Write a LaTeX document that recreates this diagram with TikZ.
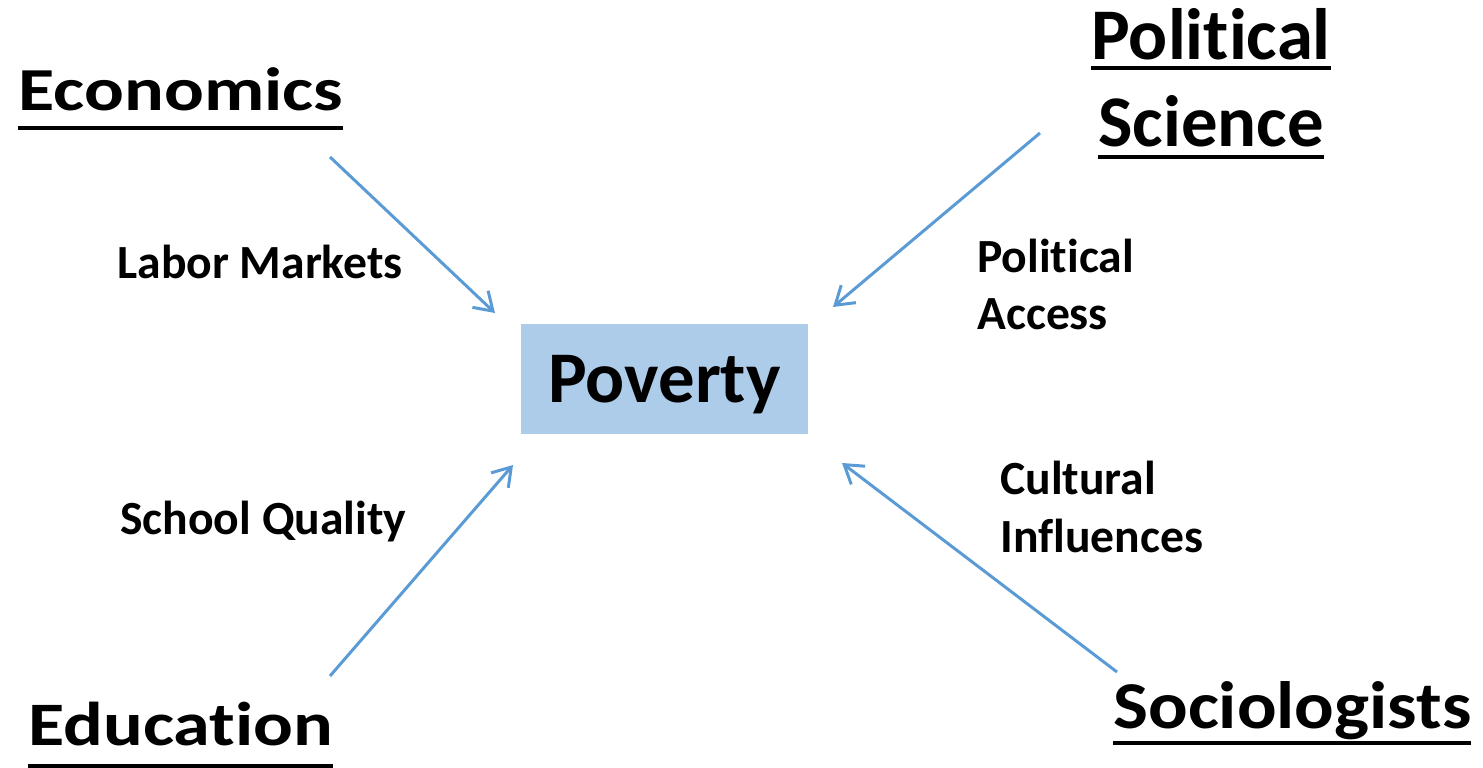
\documentclass[tikz,border=0pt]{standalone}
\usepackage{fontspec}
\setmainfont{Carlito}[Ligatures=NoCommon]
\usetikzlibrary{arrows.meta}
\definecolor{boxblue}{RGB}{173,204,234}
\definecolor{linkblue}{RGB}{91,155,213}
\tikzstyle{field} = [font=\fontsize{41.4}{49.9}\selectfont\bfseries, inner sep=0pt, align=center]
\tikzstyle{cause} = [font=\fontsize{27.1}{32.9}\selectfont\bfseries, inner sep=0pt, align=left]
\tikzstyle{pov} = [font=\fontsize{41.4}{49.9}\selectfont\bfseries, fill=boxblue, minimum width=57.4mm, minimum height=22mm, text height=26.6pt, text depth=0pt]
\tikzstyle{link} = [draw=linkblue, line width=1.7pt, -{Straight Barb[length=10pt,width=13pt]}]
\newsavebox{\fieldbox}
\newcommand{\fieldname}[2]{\sbox{\fieldbox}{#2}\rlap{\usebox{\fieldbox}}\rule[-#1]{\wd\fieldbox}{2.3pt}}
\newcommand{\squash}[3]{\scalebox{#1}[#2]{#3}}

\begin{document}
\begin{tikzpicture}[x=0.2mm, y=-0.2mm]
	\useasboundingbox (0,0) rectangle (1483,768);
	\node [pov] (pov) at (664.5,379) {Poverty};

	\node [field, anchor=base west] (econ) at (18,111) {\squash{1.02}{0.84}{\fieldname{12.8pt}{Economics}}};
	\node [field, anchor=base] (polsci) at (1211,147) {\fieldname{6.2pt}{Political}\\\fieldname{6.8pt}{Science}};
	\node [field, anchor=base west] (educ) at (28,745) {\squash{1.02}{0.85}{\fieldname{15.3pt}{Education}}};
	\node [field, anchor=base west] (socio) at (1113,728) {\squash{1.015}{0.92}{\fieldname{10.5pt}{Sociologists}}};

	\node [cause, anchor=base west] (labor) at (117,279) {Labor Markets};
	\node [cause, anchor=base west] (access) at (977,330) {Political\\Access};
	\node [cause, anchor=base west] (school) at (120,535) {School Quality};
	\node [cause, anchor=base west] (culture) at (1000,552) {Cultural\\Influences};

	\coordinate (econ-tail) at (330,157);
	\coordinate (econ-tip) at (495,313);
	\coordinate (polsci-tail) at (1040,133);
	\coordinate (polsci-tip) at (833,307);
	\coordinate (educ-tail) at (330,676);
	\coordinate (educ-tip) at (513,465);
	\coordinate (socio-tail) at (1117,672);
	\coordinate (socio-tip) at (842,463);
	\draw [link] (econ-tail) -- (econ-tip);
	\draw [link] (polsci-tail) -- (polsci-tip);
	\draw [link] (educ-tail) -- (educ-tip);
	\draw [link] (socio-tail) -- (socio-tip);
\end{tikzpicture}
\end{document}
